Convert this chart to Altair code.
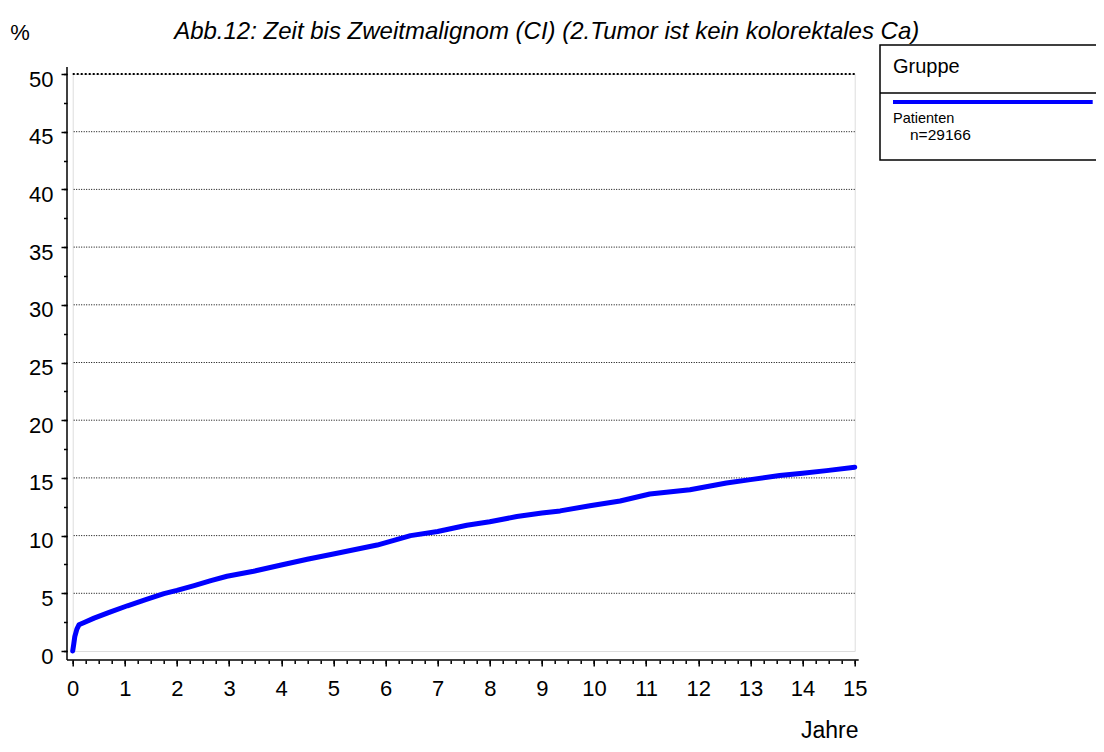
import altair as alt
import pandas as pd

# ---- data ----
years = [0, 0.02, 0.04, 0.08, 0.12, 0.22, 0.41, 0.7, 1.05, 1.4, 1.75, 2.0, 2.33, 2.65,
         2.96, 3.47, 4.0, 4.5, 5.0, 5.84, 6.48, 7.0, 7.56, 8.0, 8.52, 9.0, 9.35, 9.92,
         10.5, 11.07, 11.84, 12.54, 13.0, 13.56, 14.0, 14.46, 15.0]
percent = [0, 0.6, 1.25, 1.9, 2.27, 2.47, 2.85, 3.35, 3.92, 4.45, 4.97, 5.25, 5.67, 6.1,
           6.48, 6.91, 7.45, 7.95, 8.4, 9.18, 10.0, 10.35, 10.9, 11.2, 11.65, 11.95, 12.14, 12.58,
           13.0, 13.6, 13.97, 14.56, 14.85, 15.2, 15.4, 15.63, 15.93]

title_text = "Abb.12: Zeit bis Zweitmalignom (CI) (2.Tumor ist kein kolorektales Ca)"
y_title = "%"
x_title = "Jahre"
legend_title = "Gruppe"
group_name = "Patienten"
group_n = "n=29166"

x_major = list(range(0, 16))
x_minor = [q / 4 for q in range(0, 61)]
y_major = list(range(0, 51, 5))
y_minor = [h / 2 for h in range(0, 101, 5)]
grid_levels = [5, 10, 15, 20, 25, 30, 35, 40, 45]
top_level = [50]

# ---- layout ----
W, H = 782, 577
PAD_L, PAD_T = 64.7, 66
TOTAL_W, TOTAL_H = 1088, 736
FONT = "Liberation Sans"
BLUE = "#0000ff"

df = pd.DataFrame({"Jahre": years, "Prozent": percent})
one = pd.DataFrame({"a": [0]})

xs = alt.Scale(domain=[0, 15], nice=False, zero=False)
ys = alt.Scale(domain=[0, 50], nice=False, zero=False)

common_axis = dict(domain=False, grid=False, title=None, tickColor="black", tickWidth=1.5,
                   labelFont=FONT, labelColor="black", labelOverlap=False, labelFlush=False)

curve = alt.Chart(df).mark_line(color=BLUE, strokeWidth=5, strokeCap="round",
                                strokeJoin="round").encode(
    x=alt.X("Jahre:Q", scale=xs, axis=alt.Axis(values=x_major, format="d", orient="bottom",
                                               offset=9, tickSize=6, labelFontSize=22,
                                               labelPadding=12, **common_axis)),
    y=alt.Y("Prozent:Q", scale=ys, axis=alt.Axis(values=y_major, format="d", orient="left",
                                                 offset=5.7, tickSize=6, labelFontSize=22,
                                                 labelPadding=8, labelOffset=5, **common_axis)),
)

minor = alt.Chart(df).mark_point(opacity=0).encode(
    x=alt.X("Jahre:Q", scale=xs, axis=alt.Axis(values=x_minor, labels=False, orient="bottom",
                                               offset=9, tickSize=3.5, **common_axis)),
    y=alt.Y("Prozent:Q", scale=ys, axis=alt.Axis(values=y_minor, labels=False, orient="left",
                                                 offset=5.7, tickSize=3.5, **common_axis)),
)

grid = alt.Chart(pd.DataFrame({"g": grid_levels})).mark_rule(
    color="black", strokeWidth=1, strokeDash=[1, 1.5]).encode(
    y=alt.Y("g:Q", scale=ys, axis=None))

grid_top = alt.Chart(pd.DataFrame({"g": top_level})).mark_rule(
    color="black", strokeWidth=2.2, strokeDash=[2, 2]).encode(
    y=alt.Y("g:Q", scale=ys, axis=None))

y_line = alt.Chart(one).mark_rule(color="black", strokeWidth=1.5).encode(
    x=alt.value(-5.7), y=alt.value(-7), y2=alt.value(586))
x_line = alt.Chart(one).mark_rule(color="black", strokeWidth=1.5).encode(
    x=alt.value(-5.7), x2=alt.value(786), y=alt.value(586))

def label(text, x, y, size, align="center", style="normal", baseline="middle"):
    return alt.Chart(pd.DataFrame({"t": [text]})).mark_text(
        font=FONT, fontSize=size, align=align, baseline=baseline, color="black",
        fontStyle=style).encode(text="t:N", x=alt.value(x), y=alt.value(y))

title = label(title_text, 474, -42, 24, style="italic")
pct_lbl = label(y_title, -52.7, -41, 22)
jahre_lbl = label(x_title, 757, 664, 23, baseline="alphabetic")

leg_box = alt.Chart(one).mark_rect(fill="white", stroke="black", strokeWidth=1.5).encode(
    x=alt.value(807.3), x2=alt.value(1060), y=alt.value(-29), y2=alt.value(86))
leg_sep = alt.Chart(one).mark_rule(color="black", strokeWidth=1.5).encode(
    x=alt.value(807.3), x2=alt.value(1060), y=alt.value(19))
leg_line = alt.Chart(one).mark_rule(color=BLUE, strokeWidth=4).encode(
    x=alt.value(820.3), x2=alt.value(1020), y=alt.value(28))
leg_title = label(legend_title, 820.3, -7, 20, align="left")
leg_name = label(group_name, 820.3, 44.5, 14.5, align="left")
leg_n = label(group_n, 837.3, 60.5, 15.5, align="left")

chart = alt.layer(
    grid, grid_top, y_line, x_line, minor, curve,
    title, pct_lbl, jahre_lbl,
    leg_box, leg_sep, leg_line, leg_title, leg_name, leg_n,
).resolve_axis(x="independent", y="independent").properties(
    width=W, height=H,
    autosize=alt.AutoSizeParams(type="none"),
    padding={"left": PAD_L, "top": PAD_T, "right": TOTAL_W - PAD_L - W,
             "bottom": TOTAL_H - PAD_T - H},
).configure_view(stroke=None).configure(background="white")

chart.save("out.html", embed_options={"renderer": "svg", "actions": False})
